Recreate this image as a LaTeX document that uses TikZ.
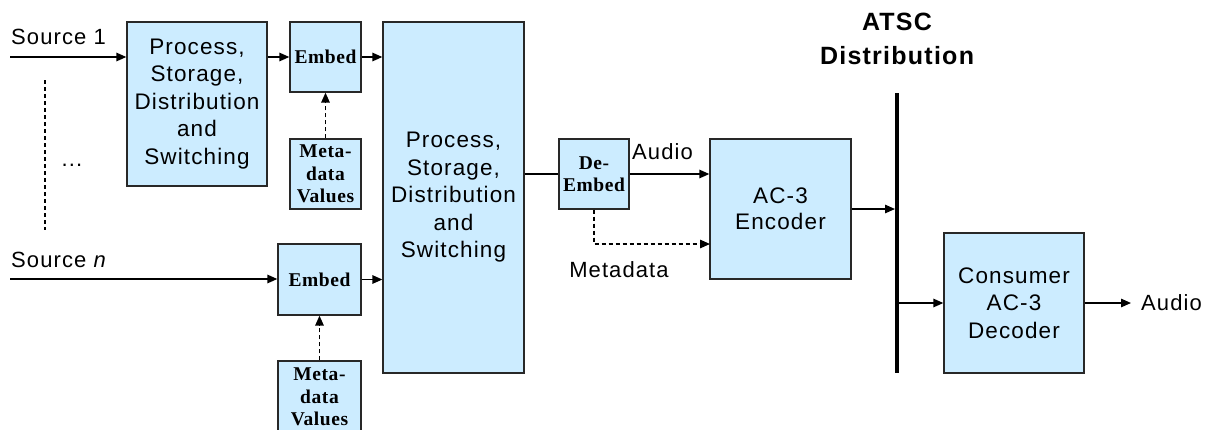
\documentclass[tikz,border=0pt]{standalone}
\usepackage{fontspec}
\setmainfont{Liberation Sans}[LetterSpace=5]
\newfontfamily\embfont{Liberation Serif}[LetterSpace=3]
\usetikzlibrary{arrows.meta}
\definecolor{boxfill}{RGB}{204,236,255}
\definecolor{edge}{RGB}{40,40,40}
\begin{document}
\begin{tikzpicture}[x=1pt,y=-1pt,
  blk/.style={draw=edge, fill=boxfill, line width=1.3pt, inner sep=0pt, align=center,
              font=\fontsize{22.5}{27.5}\selectfont},
  sblk/.style={blk, font=\embfont\bfseries\fontsize{19.5}{22.5}\selectfont},
  conn/.style={line width=1.4pt, -{Triangle[length=10pt,width=8.5pt]}},
  plain/.style={line width=1.4pt},
  dconn/.style={conn, dash pattern=on 4pt off 3pt},
  lbl/.style={font=\fontsize{22}{26}\selectfont, inner sep=0pt, align=center}]
\clip (0,0) rectangle (1216,429);
% boxes
\node[blk, minimum width=140pt, minimum height=164pt] (psd1) at (197,104)
  {Process,\\Storage,\\Distribution\\and\\Switching};
\node[sblk, minimum width=71pt, minimum height=70pt] (emb1) at (325.5,57) {Embed};
\node[sblk, minimum width=71pt, minimum height=70pt] (meta1) at (325.5,174) {Meta-\\data\\Values};
\node[sblk, minimum width=83pt, minimum height=71pt] (embn) at (319.5,279.5) {Embed};
\node[sblk, minimum width=83pt, minimum height=72pt, text depth=0pt] (metan) at (319.5,397) {Meta-\\data\\Values};
\node[blk, minimum width=141pt, minimum height=351pt] (psd2) at (453.5,197.5)
  {Process,\\Storage,\\Distribution\\and\\Switching};
\node[sblk, minimum width=70pt, minimum height=70pt] (demb) at (594,174) {De-\\Embed};
\node[blk, minimum width=141pt, minimum height=140pt, font=\fontsize{22.5}{26}\selectfont] (enc) at (780.5,209) {AC-3\\Encoder};
\node[blk, minimum width=140pt, minimum height=140pt] (dec) at (1014,303) {Consumer\\AC-3\\Decoder};
% labels
\node[lbl, anchor=west] (s1) at (11,37) {Source 1};
\node[lbl, anchor=west] (sn) at (11,260) {Source \textit{n}};
\node[lbl] (dots) at (72,165) {...};
\node[lbl, anchor=west] (aud1) at (632,152) {Audio};
\node[lbl] (meta) at (619,270) {Metadata};
\node[lbl, anchor=west] (aud2) at (1141,303) {Audio};
\node[lbl, font=\bfseries\fontsize{25}{33.5}\selectfont] (atsc) at (897,39) {ATSC\\Distribution};
% coordinates
\coordinate (s1in) at (10,57);
\coordinate (snin) at (10,279);
\coordinate (vtop) at (45,80);
\coordinate (vbot) at (45,230);
\coordinate (bartop) at (897,93);
\coordinate (barbot) at (897,373);
\coordinate (barin) at (895,209);
\coordinate (barout) at (899,303);
\coordinate (mdcorner) at (594,244);
\coordinate (mdend) at (710,244);
\coordinate (aout) at (1131,303);
% connectors
\draw[conn] (s1in) -- (psd1.west |- s1in);
\draw[conn] (snin) -- (embn.west |- snin);
\draw[line width=1.3pt, dash pattern=on 4pt off 3pt] (vtop) -- (vbot);
\draw[conn] (psd1.east |- emb1) -- (emb1.west);
\draw[conn] (emb1.east) -- (psd2.west |- emb1);
\draw[conn] (embn.east) -- (psd2.west |- embn);
\draw[dconn] (meta1.north) -- (emb1.south);
\draw[dconn] (metan.north) -- (embn.south);
\draw[plain] (psd2.east |- demb) -- (demb.west);
\draw[conn] (demb.east) -- (enc.west |- demb);
\draw[dconn] (demb.south) -- (mdcorner) -- (mdend);
\draw[conn] (enc.east) -- (barin);
\draw[line width=4pt] (bartop) -- (barbot);
\draw[conn] (barout) -- (dec.west);
\draw[conn] (dec.east) -- (aout);
\end{tikzpicture}
\end{document}
